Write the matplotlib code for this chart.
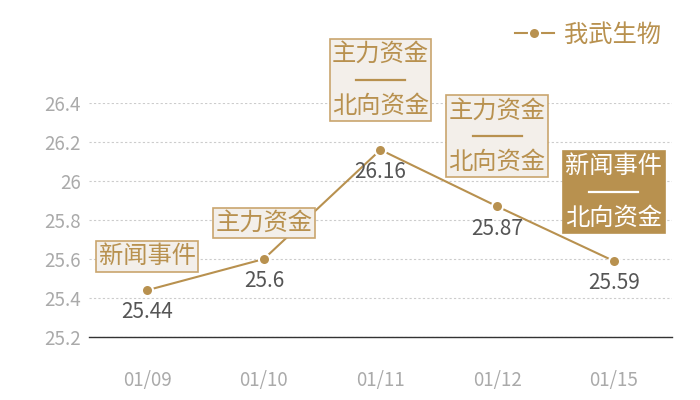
import matplotlib
matplotlib.use("Agg")
import matplotlib.pyplot as plt
import matplotlib.transforms as mtransforms

plt.rcParams['font.family'] = ['Noto Sans CJK SC', 'DejaVu Sans']

# data
dates = ['01/09', '01/10', '01/11', '01/12', '01/15']
prices = [25.44, 25.6, 26.16, 25.87, 25.59]
events_top = ['新闻事件', '主力资金', '主力资金', '主力资金', '新闻事件']
events_bottom = [None, None, '北向资金', '北向资金', '北向资金']
highlight = [False, False, False, False, True]
series_name = '我武生物'

gold = '#B8914F'
box_face = '#F3EFEA'

fig = plt.figure(figsize=(7, 4), dpi=100)
ax = fig.add_axes([0.127, 0.1575, 0.833, 0.585])

x = list(range(len(dates)))
ax.plot(x, prices, color=gold, linewidth=1.5, marker='o', markersize=8,
        markeredgecolor='white', markeredgewidth=1.5, zorder=3, label=series_name)

# value labels under points
for xi, p in zip(x, prices):
    ax.annotate(f'{p:g}', (xi, p), xytext=(0, -16), textcoords='offset points',
                ha='center', va='center', fontsize=15, color='#555555', zorder=4)

# event boxes (offset above each point, in pixels)
box_offsets = [34, 36, 70, 70, 69]
for xi, p, top, bot, hl, off in zip(x, prices, events_top, events_bottom, highlight, box_offsets):
    if hl:
        fc, ec, tc = gold, gold, 'white'
    else:
        fc, ec, tc = box_face, '#C9A56E', gold
    label = top if bot is None else top + '\n\n' + bot
    ax.annotate(label, (xi, p), xytext=(0, off * 0.72), textcoords='offset points',
                ha='center', va='center', fontsize=17.5, color=tc, linespacing=0.98,
                annotation_clip=False, zorder=5,
                bbox=dict(boxstyle='square,pad=0.1', fc=fc, ec=ec, lw=1.2))
    if bot is not None:
        # separator line in the middle of the box
        tr = mtransforms.offset_copy(ax.transData, fig=fig, x=0, y=off * 0.72, units='points')
        ax.plot([xi - 0.21, xi + 0.21], [p, p], color=tc, linewidth=1.6,
                transform=tr, clip_on=False, zorder=6)

ax.set_xlim(-0.5, 4.5)
ax.set_ylim(25.2, 26.4)
ax.set_yticks([25.2, 25.4, 25.6, 25.8, 26.0, 26.2, 26.4])
ax.set_yticklabels(['25.2', '25.4', '25.6', '25.8', '26', '26.2', '26.4'])
ax.set_xticks(x)
ax.set_xticklabels(dates)
ax.tick_params(axis='both', length=0, labelsize=13.5, labelcolor='#AAAAAA')
ax.tick_params(axis='x', pad=24)
ax.tick_params(axis='y', pad=6)

ax.grid(axis='y', color='#CCCCCC', linestyle=(0, (2, 2)), linewidth=0.8)
ax.set_axisbelow(True)
for s in ['top', 'right', 'left']:
    ax.spines[s].set_visible(False)
ax.spines['bottom'].set_color('#333333')
ax.spines['bottom'].set_linewidth(1.0)

leg = fig.legend(loc='upper right', bbox_to_anchor=(0.975, 1.0), frameon=False,
                 fontsize=17.5, handlelength=1.6, handletextpad=0.4)
for t in leg.get_texts():
    t.set_color(gold)

fig.savefig('out.png', dpi=100)
